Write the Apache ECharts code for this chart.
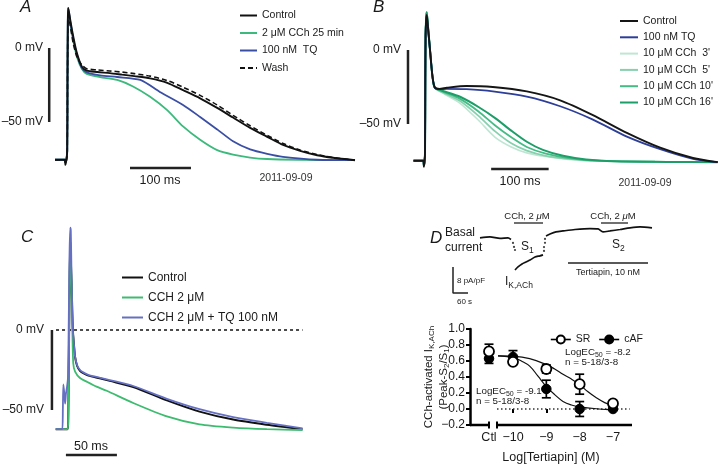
<!DOCTYPE html>
<html><head><meta charset="utf-8">
<script src="https://cdn.jsdelivr.net/npm/echarts@6/dist/echarts.min.js"></script>
<style>html,body{margin:0;padding:0;background:#fff}#c{width:720px;height:475px}</style>
</head><body><div id="c"></div>
<script>
// ---------- Panel A (t ms, V mV) ----------
const aControl = [[-20,-75.5],[-4,-75.5],[-3,-79],[-1.5,-76],[0,-70],[0.5,-20],[1,15],[1.5,27],[3,24],[5,19],[10,7.6],[16,-3.6],[24,-12.6],[32,-15.3],[49,-16.2],[70,-17],[90,-18],[110,-19],[136,-20.5],[164,-23.5],[190,-28.5],[218,-34],[246,-40.5],[272,-47],[300,-54],[328,-60],[354,-65.5],[382,-69.5],[410,-72.5],[436,-74.2],[472,-75.8]];
const aWash = [[-20,-75.5],[-4,-75.5],[-3,-78],[-1.5,-76],[0,-72],[0.5,-25],[1,12],[1.5,22],[3,21],[5,15],[10,3],[16,-6],[24,-11.5],[32,-14],[49,-14.8],[70,-15.5],[90,-16.3],[110,-17.3],[136,-19],[164,-22],[190,-26.5],[218,-32],[246,-38.5],[272,-45.5],[300,-52.5],[328,-59],[354,-64.5],[382,-69],[410,-72],[436,-74],[472,-75.8]];
const aCCh = [[-20,-75.5],[-4,-75.5],[-3,-77],[-1.5,-76],[0,-70],[0.5,-20],[1,14],[1.5,25],[3,23],[5,17],[10,5],[16,-6],[24,-14],[32,-17.5],[54,-19.6],[82,-21.6],[108,-26],[136,-33],[164,-42],[190,-53],[218,-62],[246,-69],[272,-72],[300,-74],[328,-75],[380,-75.5],[472,-75.8]];
const aTQ = [[-20,-75.5],[-4,-75.5],[-3,-77],[-1.5,-76],[0,-70],[0.5,-20],[1,16],[1.5,27],[3,24],[5,18],[10,6],[16,-4.5],[24,-13.5],[32,-16.5],[54,-18.5],[82,-19.6],[120,-21.6],[152,-29.7],[190,-38.5],[218,-46.6],[246,-55],[272,-63],[300,-68.5],[328,-71.5],[354,-73.5],[410,-75.5],[472,-75.8]];
const aScaleV = [[-29.5,0],[-29.5,-50]];
const aScaleH = [[103,-81],[203,-81]];

// ---------- Panel B ----------
const bControl = [[-20,-74.8],[-3,-74.8],[-2,-79],[-1,-76],[0,-70],[0.5,-20],[1,10],[2,20],[3,23.6],[5,16],[8.7,0],[13,-18],[17,-25.2],[25,-26.3],[38,-25.5],[72,-24.3],[118,-25],[177,-28],[235,-34],[292,-44],[351,-56],[409,-66],[466,-73],[509,-75.8]];
const bTQ = [[-20,-74.8],[-3,-74.8],[-2,-78],[-1,-76],[0,-70],[0.5,-20],[1,10],[2,20],[3,23],[5,15],[8.7,0],[13,-18],[17,-25.5],[25,-26.5],[38,-26.2],[72,-26.5],[118,-28],[177,-31.5],[235,-38],[292,-47],[351,-58.5],[409,-67],[466,-73.5],[509,-75.8]];
const bCCh3 = [[-20,-74.8],[-3,-74.8],[-2,-78],[-1,-76],[0,-70],[0.5,-20],[1,10],[2,22],[3,25.5],[5,17],[8.7,0],[13,-18],[17,-25.5],[30,-29],[61,-36],[93,-47.5],[122,-59],[150,-65.5],[177,-69.5],[210,-72],[250,-74],[300,-75],[400,-75.5],[509,-75.8]];
const bCCh5 = [[-20,-74.8],[-3,-74.8],[-2,-78],[-1,-76],[0,-70],[0.5,-20],[1,10],[2,22],[3,25.5],[5,17],[8.7,0],[13,-18],[17,-25.5],[30,-28.5],[61,-34.5],[93,-44.5],[122,-55],[150,-63],[177,-68],[210,-71.5],[250,-73.5],[300,-75],[400,-75.5],[509,-75.8]];
const bCCh10 = [[-20,-74.8],[-3,-74.8],[-2,-78],[-1,-76],[0,-70],[0.5,-20],[1,10],[2,22],[3,25.5],[5,17],[8.7,0],[13,-18],[17,-25.5],[30,-28],[61,-33],[93,-41.5],[122,-51],[150,-59],[177,-65.5],[210,-70],[250,-73],[300,-74.8],[400,-75.5],[509,-75.8]];
const bCCh16 = [[-20,-74.8],[-3,-74.8],[-2,-78],[-1,-76],[0,-70],[0.5,-20],[1,10],[2,22],[3,25.5],[5,17],[8.7,0],[13,-18],[17,-25.5],[30,-27.5],[61,-31.6],[93,-38.5],[122,-46],[150,-54.5],[177,-62],[205,-67.5],[240,-71.5],[280,-74],[330,-75.2],[420,-75.6],[509,-75.8]];
const bScaleV = [[-29.6,0],[-29.6,-50]];
const bScaleH = [[115,-80.4],[215,-80.4]];

// ---------- Panel C ----------
const cControl = [[-13,-62],[-1.5,-62],[-0.8,-58],[-0.3,-30],[0.5,20],[1.2,55],[1.8,55],[2.6,28],[3.8,0],[5,-10],[6,-17],[8,-22.5],[10.8,-25.5],[14,-27],[19,-28.5],[30,-30.2],[40,-31.8],[63,-35.6],[96,-44],[128,-51],[161,-56],[194,-59.2],[229,-62]];
const cCCh = [[-13,-62],[-1.5,-62],[-0.8,-58],[-0.3,-30],[0.5,20],[1.2,55],[1.8,55],[2.6,25],[3.3,0],[4.2,-20.8],[6,-26],[10.8,-30],[18,-32.5],[27,-35.4],[37,-38],[63,-45.6],[96,-54],[128,-59],[161,-61],[194,-62],[229,-62.5]];
const cTQ = [[-13,-62],[-6.5,-62],[-6,-50],[-5.5,-34],[-4.5,-40],[-3.8,-46],[-3,-40],[-2,-36],[-1,-30],[-0.3,0],[0.5,45],[1.2,64],[1.8,62],[2.6,30],[3.8,0],[5,-10],[6,-16.7],[8,-22],[10.8,-25],[14,-26.5],[19,-28],[30,-29.8],[40,-31.3],[63,-35],[96,-43],[128,-49.5],[161,-54.5],[194,-58],[229,-61.5]];
const cZero = [[-12.7,0],[229,0]];
const cScaleV = [[-16.7,0],[-16.7,-50]];
const cScaleH = [[-3,-78.1],[47,-78.1]];

// ---------- Panel D top (t s, I pA/pF) ----------
const dBasal = [[0,0],[40,0.31],[80,-0.15],[112,0],[124,-0.46]];
const dS1 = [[140,-9.85],[152,-8.9],[168,-8.0],[184,-7.4],[200,-6.8],[220,-5.85],[240,-5.5],[252,-5.2]];
const dAfter = [[264,0.6],[280,1.2],[304,1.85],[332,2.15],[380,2.6],[440,2.9],[472,2.8],[492,1.85],[520,2.15],[560,2.6],[600,3.1],[640,3.4],[688,3.1]];
const dJumps = [[132,-1.54],[136,-2.77],[140,-3.7],[256,-4.0],[256,-2.8],[260,-1.5],[260,-0.3]];
const dCCh1 = [[136,4.6],[252,4.6]];
const dCCh2 = [[484,4.6],[592,4.6]];
const dTertiapin = [[352,-7.7],[672,-7.7]];
const dScale = [[-108,-8.9],[-108,-16.9],[-48,-16.9]];

// ---------- Panel D bottom ----------
const doseX = [-10.72, -10, -9, -8, -7];
const doseLabels = ['Ctl', '\u221210', '\u22129', '\u22128', '\u22127'];
const tickX = [-10, -9, -8, -7];
const srMean = [0.72, 0.59, 0.50, 0.31, 0.07];
const srErr = [0.09, 0.02, 0.05, 0.125, 0.02];
const cafMean = [0.63, 0.65, 0.25, 0.0, 0.0];
const cafErr = [0.06, 0.08, 0.11, 0.093, 0.01];
const srFit = [[-10.45,0.665],[-10,0.66],[-9.5,0.63],[-9,0.555],[-8.75,0.50],[-8.5,0.434],[-8.25,0.375],[-8,0.305],[-7.75,0.215],[-7.5,0.14],[-7.25,0.08],[-7,0.045],[-6.85,0.032]];
const cafFit = [[-10.45,0.664],[-10.25,0.658],[-10,0.645],[-9.75,0.6],[-9.5,0.536],[-9.25,0.41],[-9,0.28],[-8.75,0.18],[-8.5,0.095],[-8.25,0.05],[-8,0.027],[-7.5,0.003],[-7,-0.01],[-6.85,-0.012]];
const zeroLine = [[-10.48,0],[-6.5,0]];
const axisSegs = [[-11.29,-0.2],[-10.72,-0.2],null,[-10.48,-0.2],[-6.43,-0.2]];
const breakMarks = [[-10.72,-0.245],[-10.72,-0.155],null,[-10.48,-0.245],[-10.48,-0.155]];

const FF = "'Liberation Sans', Arial, Helvetica, sans-serif";
const INK = '#1a1a1a';

function trace(name, data, g, color, width, z, type) {
  return {type:'line', name, data, xAxisIndex:g, yAxisIndex:g, symbol:'none', smooth:0.25,
    lineStyle:{color, width, type: type || 'solid'}, itemStyle:{color}, silent:true, z: z || 2,
    connectNulls:false, clip:false};
}
function bar(data, g, width) {
  return {type:'line', data, xAxisIndex:g, yAxisIndex:g, symbol:'none', silent:true, clip:false,
    lineStyle:{color:'#222', width: width || 2.5}, z:1};
}
function txt(x, y, text, o) {
  return {type:'text', x, y, silent:true, style:Object.assign({text, fill:INK, fontSize:12, fontFamily:FF,
    textAlign:'left', textVerticalAlign:'middle', align:'left', verticalAlign:'middle'}, o || {})};
}
function hidAx(g, min, max) { return {type:'value', gridIndex:g, min, max, show:false}; }

const subRich = {
  m:{fontSize:12, fontFamily:FF, fill:INK, lineHeight:16, verticalAlign:'middle'},
  s:{fontSize:8.5, fontFamily:FF, fill:INK, lineHeight:8, verticalAlign:'bottom'},
  m10:{fontSize:9.8, fontFamily:FF, fill:INK, lineHeight:14, verticalAlign:'middle'},
  s10:{fontSize:7, fontFamily:FF, fill:INK, lineHeight:7, verticalAlign:'bottom'},
  it:{fontSize:9.5, fontFamily:FF, fill:INK, fontStyle:'italic', lineHeight:12, verticalAlign:'middle'},
  n9:{fontSize:9.5, fontFamily:FF, fill:INK, lineHeight:12, verticalAlign:'middle'}
};

const chart = echarts.init(document.getElementById('c'), null, {renderer:'canvas'});

const errSeries = (mean, err) => ({
  type:'custom', xAxisIndex:4, yAxisIndex:4, z:3, silent:true,
  data: doseX.map((x,i)=>[x, mean[i], err[i]]),
  renderItem: (params, api) => {
    const x = api.value(0), y = api.value(1), e = api.value(2);
    const t = api.coord([x, y+e]), b = api.coord([x, y-e]); const w = 4.5;
    const st = {stroke:'#000', lineWidth:1.7};
    return {type:'group', children:[
      {type:'line', shape:{x1:t[0],y1:t[1],x2:b[0],y2:b[1]}, style:st},
      {type:'line', shape:{x1:t[0]-w,y1:t[1],x2:t[0]+w,y2:t[1]}, style:st},
      {type:'line', shape:{x1:b[0]-w,y1:b[1],x2:b[0]+w,y2:b[1]}, style:st}]};
  }
});

const option = {
  animation:false,
  backgroundColor:'#fff',
  textStyle:{fontFamily:FF},
  grid:[
    {left:40, top:3.6, width:315, height:177.6},
    {left:400, top:5.6, width:318, height:177.6},
    {left:45, top:226, width:260, height:240},
    {left:440, top:210, width:220, height:89.7},
    {left:470, top:329, width:162, height:96}
  ],
  xAxis:[
    hidAx(0,-44.6,472), hidAx(1,-43.5,509.5), hidAx(2,-23.5,231.4), hidAx(3,-160,720),
    {type:'value', gridIndex:4, min:-11.29, max:-6.43,
     axisLine:{show:false}, splitLine:{show:false},
     axisTick:{show:true, customValues:tickX, length:4, lineStyle:{width:2, color:'#000'}},
     axisLabel:{customValues:doseX, fontSize:12.5, color:INK, margin:6, fontFamily:FF,
       formatter:(v)=>{const i = doseX.findIndex(d=>Math.abs(d-v)<1e-6); return i>=0 ? doseLabels[i] : '';}},
     name:'Log[Tertiapin] (M)', nameLocation:'middle', nameGap:26,
     nameTextStyle:{fontSize:12.5, color:INK, fontFamily:FF}}
  ],
  yAxis:[
    hidAx(0,-90,30), hidAx(1,-90,30), hidAx(2,-85,65), hidAx(3,-19,8.6),
    {type:'value', gridIndex:4, min:-0.2, max:1.0, interval:0.2,
     axisLine:{show:true, onZero:false, lineStyle:{width:2.5, color:'#000'}},
     axisTick:{show:true, length:4, lineStyle:{width:2, color:'#000'}},
     splitLine:{show:false},
     axisLabel:{fontSize:12, color:INK, margin:5, fontFamily:FF,
       formatter:(v)=> (v<0?'\u2212':'') + Math.abs(v).toFixed(1)}}
  ],
  legend:[
    {left:234, top:5, orient:'vertical', itemWidth:17, itemHeight:12, itemGap:6.5, itemStyle:{opacity:0},
     data:['Control','2 \u03bcM CCh 25 min','100 nM  TQ','Wash'],
     textStyle:{fontSize:10.5, color:INK, fontFamily:FF}},
    {left:614, top:10.5, orient:'vertical', itemWidth:18, itemHeight:12, itemGap:5.3, itemStyle:{opacity:0},
     data:['Control ','100 nM TQ','10 \u03bcM CCh  3\'','10 \u03bcM CCh  5\'','10 \u03bcM CCh 10\'','10 \u03bcM CCh 16\''],
     textStyle:{fontSize:10.5, color:INK, fontFamily:FF}},
    {left:116, top:266.5, orient:'vertical', itemWidth:21, itemHeight:13, itemGap:8, itemStyle:{opacity:0},
     data:['Control  ','CCH 2 \u03bcM','CCH 2 \u03bcM + TQ 100 nM'],
     textStyle:{fontSize:12, color:INK, fontFamily:FF}},
    {left:545, top:329, orient:'horizontal', itemWidth:20, itemHeight:10, itemGap:8,
     data:['SR','cAF'], lineStyle:{color:'#000', width:1.6, opacity:1},
     textStyle:{fontSize:10.5, color:INK, fontFamily:FF}}
  ],
  series:[
    // Panel A
    trace('2 \u03bcM CCh 25 min', aCCh, 0, '#3cb97c', 1.8, 2),
    trace('100 nM  TQ', aTQ, 0, '#3a4ea3', 1.8, 3),
    trace('Control', aControl, 0, '#111', 1.9, 4),
    trace('Wash', aWash, 0, '#111', 1.6, 5, [5,3]),
    bar(aScaleV, 0), bar(aScaleH, 0),
    // Panel B
    trace('10 \u03bcM CCh  3\'', bCCh3, 1, '#bfe6d3', 1.6, 2),
    trace('10 \u03bcM CCh  5\'', bCCh5, 1, '#86d0ae', 1.7, 3),
    trace('10 \u03bcM CCh 10\'', bCCh10, 1, '#45bb86', 1.8, 4),
    trace('10 \u03bcM CCh 16\'', bCCh16, 1, '#1d9e69', 2.0, 5),
    trace('100 nM TQ', bTQ, 1, '#2d3e98', 1.8, 6),
    trace('Control ', bControl, 1, '#151515', 1.9, 7),
    bar(bScaleV, 1), bar(bScaleH, 1),
    // Panel C
    {type:'line', data:cZero, xAxisIndex:2, yAxisIndex:2, symbol:'none', silent:true, clip:false,
     lineStyle:{color:'#111', width:1.5, type:[3,3]}, z:1},
    trace('Control  ', cControl, 2, '#111', 2.0, 2),
    trace('CCH 2 \u03bcM', cCCh, 2, '#3dbb6f', 1.8, 3),
    trace('CCH 2 \u03bcM + TQ 100 nM', cTQ, 2, '#6670c2', 1.8, 4),
    bar(cScaleV, 2), bar(cScaleH, 2),
    // Panel D top
    trace('basal', dBasal, 3, '#111', 1.7, 2),
    trace('s1', dS1, 3, '#111', 1.7, 2),
    trace('after', dAfter, 3, '#111', 1.7, 2),
    {type:'scatter', data:dJumps, xAxisIndex:3, yAxisIndex:3, symbol:'circle', symbolSize:2.2, silent:true,
     itemStyle:{color:'#111'}, clip:false},
    bar(dCCh1, 3, 1.3), bar(dCCh2, 3, 1.3), bar(dTertiapin, 3, 1.3),
    {type:'line', data:dScale, xAxisIndex:3, yAxisIndex:3, symbol:'none', silent:true, clip:false,
     lineStyle:{color:'#222', width:1.5}},
    // Panel D bottom
    {type:'line', data:axisSegs, xAxisIndex:4, yAxisIndex:4, symbol:'none', silent:true, clip:false,
     connectNulls:false, lineStyle:{color:'#000', width:2.5}, z:1},
    {type:'line', data:breakMarks, xAxisIndex:4, yAxisIndex:4, symbol:'none', silent:true, clip:false,
     connectNulls:false, lineStyle:{color:'#000', width:2}, z:1},
    {type:'line', data:zeroLine, xAxisIndex:4, yAxisIndex:4, symbol:'none', silent:true,
     lineStyle:{color:'#333', width:1.3, type:[1.5,2.5]}, z:1},
    {type:'line', data:srFit, xAxisIndex:4, yAxisIndex:4, symbol:'none', smooth:0.4, silent:true,
     lineStyle:{color:'#111', width:1.2}, z:2},
    {type:'line', data:cafFit, xAxisIndex:4, yAxisIndex:4, symbol:'none', smooth:0.4, silent:true,
     lineStyle:{color:'#111', width:1.2}, z:2},
    errSeries(cafMean, cafErr),
    errSeries(srMean, srErr),
    {type:'line', name:'cAF', data:doseX.map((x,i)=>[x,cafMean[i]]), xAxisIndex:4, yAxisIndex:4,
     symbol:'circle', symbolSize:9.5, showSymbol:true, silent:true,
     lineStyle:{width:0, opacity:0}, itemStyle:{color:'#000', borderColor:'#000', borderWidth:1}, z:4},
    {type:'line', name:'SR', data:doseX.map((x,i)=>[x,srMean[i]]), xAxisIndex:4, yAxisIndex:4,
     symbol:'circle', symbolSize:10, showSymbol:true, silent:true,
     lineStyle:{width:0, opacity:0}, itemStyle:{color:'#fff', borderColor:'#000', borderWidth:1.8}, z:5}
  ],
  graphic:[
    txt(20, 7, 'A', {fontSize:17, fontStyle:'italic'}),
    txt(373, 7, 'B', {fontSize:17, fontStyle:'italic'}),
    txt(21, 237, 'C', {fontSize:17, fontStyle:'italic'}),
    txt(430, 238, 'D', {fontSize:17, fontStyle:'italic'}),
    // A labels
    txt(43, 48, '0 mV', {textAlign:'right', align:'right'}),
    txt(43, 122, '\u201350 mV', {textAlign:'right', align:'right'}),
    txt(160, 181, '100 ms', {textAlign:'center', align:'center', fontSize:12.5}),
    txt(286, 178, '2011-09-09', {textAlign:'center', align:'center', fontSize:10.5, fill:'#333'}),
    // B labels
    txt(401, 50, '0 mV', {textAlign:'right', align:'right'}),
    txt(401, 124, '\u201350 mV', {textAlign:'right', align:'right'}),
    txt(520, 182, '100 ms', {textAlign:'center', align:'center', fontSize:12.5}),
    txt(645, 183, '2011-09-09', {textAlign:'center', align:'center', fontSize:10.5, fill:'#333'}),
    // C labels
    txt(44, 330, '0 mV', {textAlign:'right', align:'right'}),
    txt(44, 410, '\u201350 mV', {textAlign:'right', align:'right'}),
    txt(91, 447, '50 ms', {textAlign:'center', align:'center', fontSize:12.5}),
    // D top labels
    txt(445, 233, 'Basal'),
    txt(445, 248, 'current'),
    txt(527, 216, '', {text:'{n9|CCh, 2 }{it|\u03bc}{n9|M}', rich:subRich, textAlign:'center', align:'center'}),
    txt(613, 216, '', {text:'{n9|CCh, 2 }{it|\u03bc}{n9|M}', rich:subRich, textAlign:'center', align:'center'}),
    txt(521, 247, '', {text:'{m|S}{s|1}', rich:subRich}),
    txt(612, 245, '', {text:'{m|S}{s|2}', rich:subRich}),
    txt(608, 273, 'Tertiapin, 10 nM', {textAlign:'center', align:'center', fontSize:9}),
    txt(505, 282, '', {text:'{m|I}{s|K,ACh}', rich:subRich}),
    txt(457, 281, '8 pA/pF', {fontSize:8}),
    txt(457, 302, '60 s', {fontSize:8}),
    // D bottom labels
    txt(565, 352, '', {text:'{m10|LogEC}{s10|50}{m10| = -8.2}', rich:subRich}),
    txt(565, 362.5, 'n = 5-18/3-8', {fontSize:9.8}),
    txt(476, 391, '', {text:'{m10|LogEC}{s10|50}{m10| = -9.1}', rich:subRich}),
    txt(476, 401.5, 'n = 5-18/3-8', {fontSize:9.8}),
    {type:'text', x:436, y:377, rotation:Math.PI/2, silent:true,
     style:{text:'{m|CCh-activated I}{s|K,ACh}\n{m|(Peak-S}{s|2}{m|/S}{s|1}{m|)}',
       rich:{m:{fontSize:11.5, fontFamily:FF, fill:INK, lineHeight:15, verticalAlign:'middle'},
             s:{fontSize:8, fontFamily:FF, fill:INK, lineHeight:8, verticalAlign:'bottom'}},
       textAlign:'center', align:'center', textVerticalAlign:'middle', verticalAlign:'middle'}}
  ]
};
chart.setOption(option);
</script>
</body></html>
